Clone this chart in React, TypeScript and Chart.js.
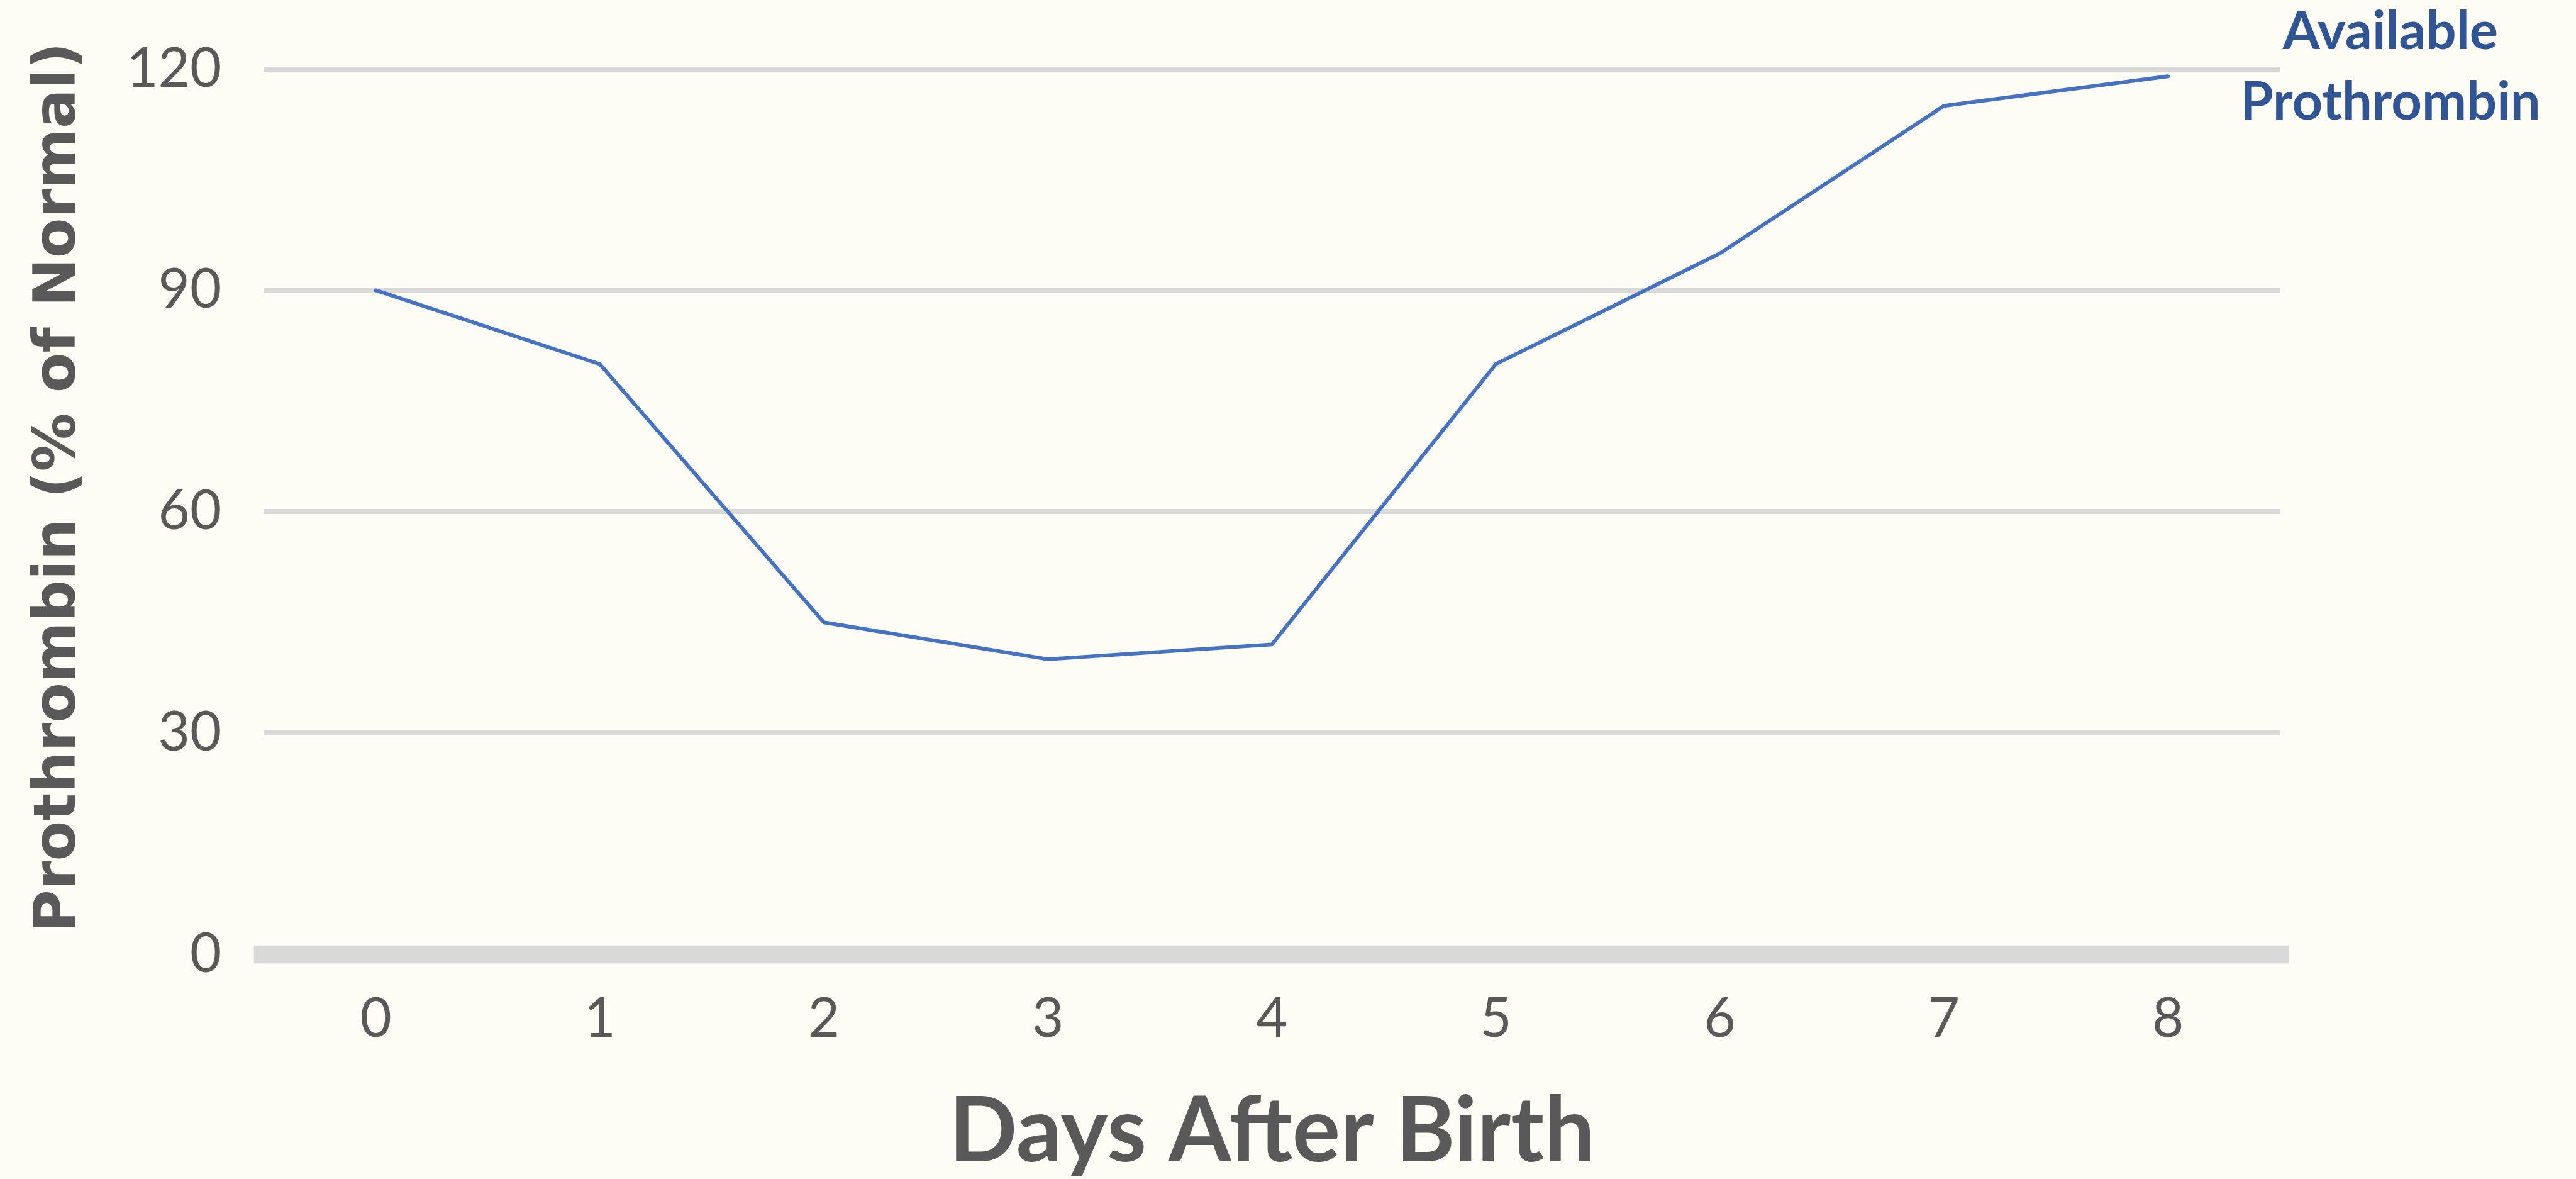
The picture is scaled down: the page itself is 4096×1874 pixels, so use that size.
import React, { useEffect, useRef } from "react";
import { Chart, registerables } from "chart.js";

Chart.register(...registerables);

// ---- data ----
const days = ["0", "1", "2", "3", "4", "5", "6", "7", "8"];
const prothrombin = [90, 80, 45, 40, 42, 80, 95, 115, 119];
const yMin = 0;
const yMax = 120;
const yStep = 30;
const xTitle = "Days After Birth";
const yTitle = "Prothrombin (% of Normal)";
const seriesLabelLines = ["Available", "Prothrombin"];

// ---- layout / style ----
const S = 0.987;
const W = 4096;
const H = 1874;
const BG = "#FFFCF5";
const TEXT = "#595959";
const GRID = "#D9D9D9";
const LINE = "#4472C4";
const LABEL = "#2F5597";
const CAL = "Lato, Carlito, 'Open Sans', sans-serif";
const VER = "'DejaVu Sans', Verdana, sans-serif";

const decor = {
  id: "decor",
  beforeDatasetsDraw(chart: any) {
    const { ctx, chartArea, scales } = chart;
    const y0 = scales.y.getPixelForValue(0);
    ctx.save();
    ctx.strokeStyle = GRID;
    ctx.lineWidth = 29 * S;
    ctx.beginPath();
    ctx.moveTo(chartArea.left - 16 * S, y0);
    ctx.lineTo(chartArea.right + 15 * S, y0);
    ctx.stroke();
    ctx.restore();
  },
  afterDraw(chart: any) {
    const { ctx, chartArea, scales } = chart;
    const yTop = scales.y.getPixelForValue(yMax);
    const yBottom = scales.y.getPixelForValue(yMin);
    ctx.save();
    // x title
    ctx.fillStyle = TEXT;
    ctx.font = `bold ${145 * S}px ${CAL}`;
    ctx.textAlign = "center";
    ctx.textBaseline = "alphabetic";
    ctx.fillText(xTitle, (chartArea.left + chartArea.right) / 2, yBottom + (1870 - 1537) * S);
    // y title
    ctx.save();
    ctx.translate(chartArea.left - (425 - 121) * S, yTop + (785 - 111) * S);
    ctx.rotate(-Math.PI / 2);
    ctx.font = `bold ${94 * S}px ${VER}`;
    ctx.textAlign = "center";
    ctx.textBaseline = "alphabetic";
    ctx.fillText(yTitle, 0, 0);
    ctx.restore();
    // series label
    ctx.fillStyle = LABEL;
    ctx.font = `bold ${86 * S}px ${CAL}`;
    ctx.textAlign = "center";
    const lx = chartArea.right + 178 * S;
    ctx.fillText(seriesLabelLines[0], lx, yTop - 32 * S);
    ctx.fillText(seriesLabelLines[1], lx, yTop + 82 * S);
    ctx.restore();
  },
};

export default function App() {
  const ref = useRef<HTMLCanvasElement | null>(null);

  useEffect(() => {
    let chart: Chart | null = null;
    let cancelled = false;
    const fontsReady = (document as any).fonts
      ? Promise.all([
          (document as any).fonts.load(`88px Lato`),
          (document as any).fonts.load(`bold 88px Lato`),
          (document as any).fonts.load(`bold 95px "DejaVu Sans"`),
        ]).catch(() => null)
      : Promise.resolve(null);
    fontsReady.then(() => {
      if (cancelled || !ref.current) return;
      chart = new Chart(ref.current, {
        type: "line",
        data: {
          labels: days,
          datasets: [
            {
              label: "Available Prothrombin",
              data: prothrombin,
              borderColor: LINE,
              backgroundColor: LINE,
              borderWidth: 6 * S,
              pointRadius: 0,
              tension: 0,
              borderJoinStyle: "round",
              borderCapStyle: "round",
            },
          ],
        },
        plugins: [decor],
        options: {
          animation: false,
          responsive: false,
          devicePixelRatio: 1,
          layout: {
            padding: { top: 111 * S, right: W - 3673 * S, bottom: 0, left: 0 },
          },
          plugins: {
            legend: { display: false },
            tooltip: { enabled: false },
            title: { display: false },
          },
          scales: {
            x: {
              offset: true,
              border: { display: false },
              grid: { display: false, drawTicks: false },
              ticks: {
                color: TEXT,
                font: { family: CAL, size: 88 * S },
                padding: 52 * S,
                maxRotation: 0,
              },
              afterFit(scale: any) {
                scale.height = H - 1537 * S;
                scale.paddingLeft = 0;
                scale.paddingRight = 0;
              },
            },
            y: {
              min: yMin,
              max: yMax,
              border: { display: false },
              grid: {
                drawTicks: false,
                lineWidth: 8 * S,
                color: (c: any) => (c.tick && c.tick.value === 0 ? "rgba(0,0,0,0)" : GRID),
              },
              ticks: {
                stepSize: yStep,
                color: TEXT,
                font: { family: CAL, size: 88 * S },
                padding: 68 * S,
              },
              afterFit(scale: any) {
                scale.width = 425 * S;
                scale.paddingTop = 0;
                scale.paddingBottom = 0;
              },
            },
          },
        },
      } as any);
    });
    return () => {
      cancelled = true;
      if (chart) chart.destroy();
    };
  }, []);

  return (
    <div style={{ position: "fixed", left: 0, top: 0, width: W, height: H, background: BG }}>
      <canvas ref={ref} width={W} height={H} style={{ display: "block", width: W, height: H }} />
    </div>
  );
}
